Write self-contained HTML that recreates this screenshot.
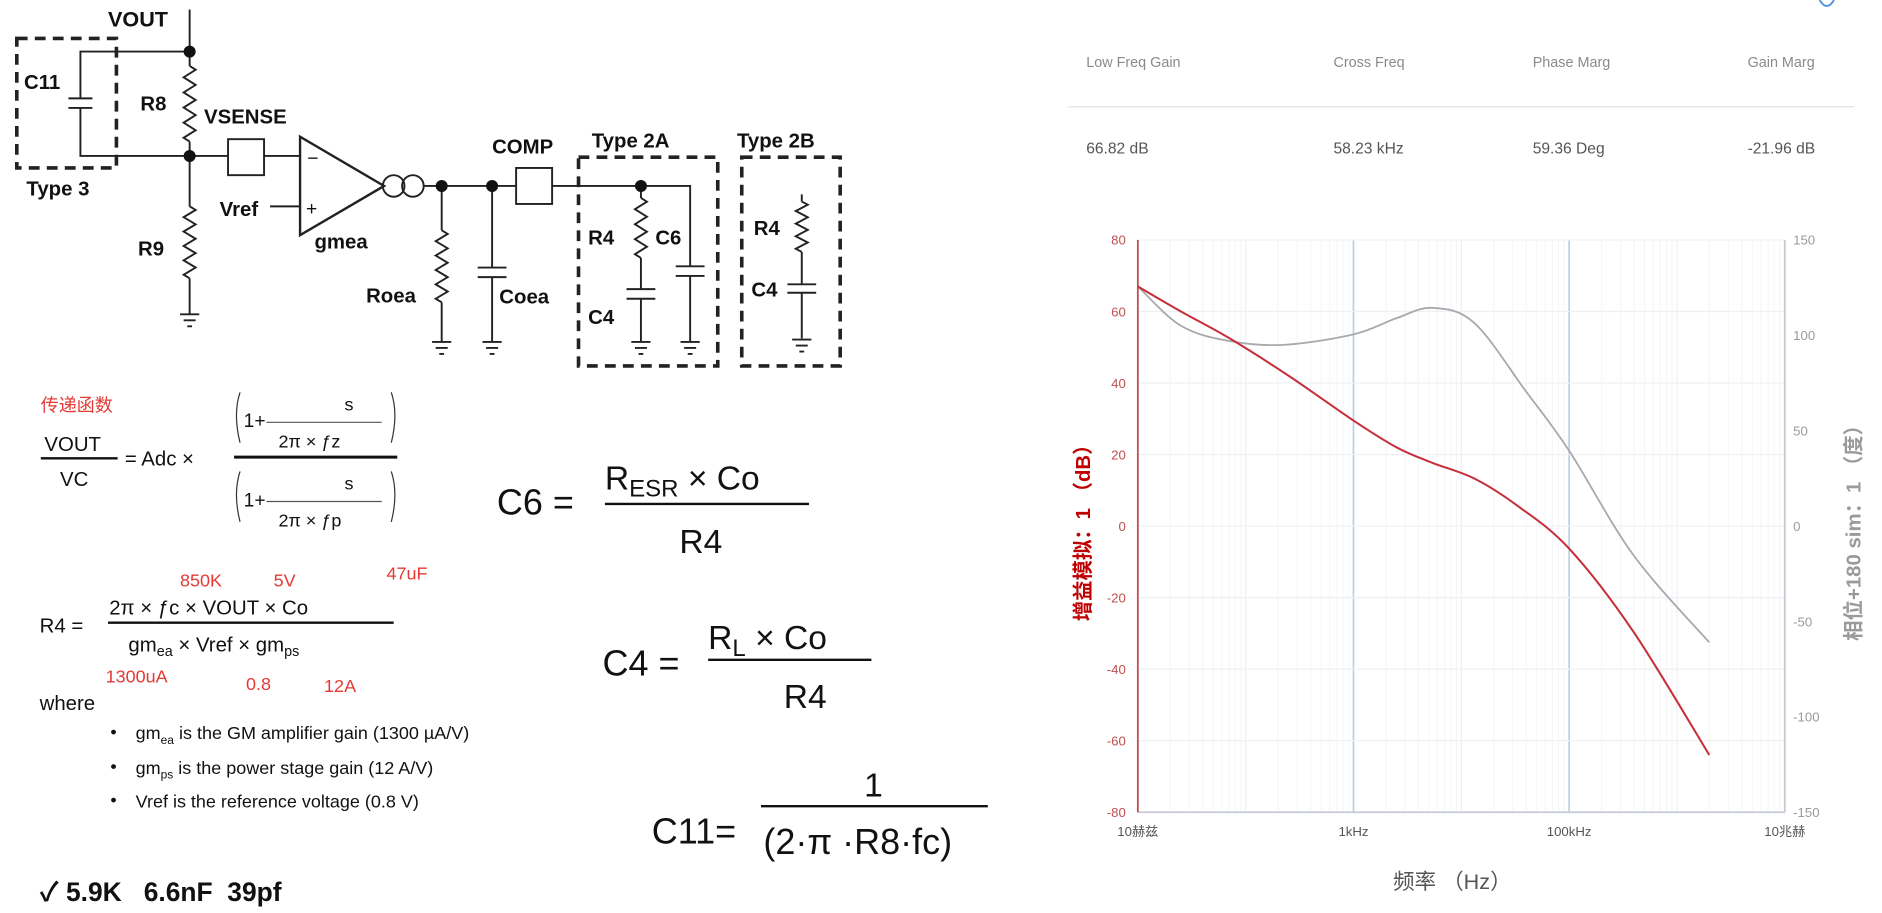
<!DOCTYPE html>
<html><head><meta charset="utf-8">
<style>
html,body{margin:0;padding:0;background:#fff;width:1882px;height:913px;overflow:hidden}
svg{display:block}
text{font-family:"Liberation Sans","Noto Sans CJK SC",sans-serif}
</style></head>
<body>
<svg id="page" width="1882" height="913" viewBox="0 0 1568 761" preserveAspectRatio="none" xmlns="http://www.w3.org/2000/svg">
<g id="circuit" stroke="#222" stroke-width="1.6" fill="none">
  <text x="90" y="22" font-size="18" font-weight="bold" fill="#111" stroke="none">VOUT</text>
  <line x1="158" y1="8" x2="158" y2="55"/>
  <line x1="158" y1="118" x2="158" y2="172"/>
  <line x1="158" y1="232" x2="158" y2="262"/>
  <path d="M150 262h16M153 267h10M156 272h4"/>
  <rect x="14" y="32" width="83" height="108" stroke-dasharray="9,6" stroke-width="3"/>
  <path d="M158 43H67V82M67 90V130H158"/>
  <path d="M57 82h20M57 90h20"/>
  <text x="20" y="74" font-size="17" font-weight="bold" fill="#111" stroke="none">C11</text>
  <text x="22" y="163" font-size="17" font-weight="bold" fill="#111" stroke="none">Type 3</text>
  <text x="117" y="92" font-size="17" font-weight="bold" fill="#111" stroke="none">R8</text>
  <text x="115" y="213" font-size="17" font-weight="bold" fill="#111" stroke="none">R9</text>
  <text x="170" y="103" font-size="17" font-weight="bold" fill="#111" stroke="none">VSENSE</text>
  <path d="M158 130H190M220 130H250"/>
  <rect x="190" y="116" width="30" height="30"/>
  <path d="M250 114L250 196L320 155Z" stroke-width="2"/>
  <text x="256" y="137" font-size="16" fill="#111" stroke="none">−</text>
  <text x="255" y="179" font-size="16" fill="#111" stroke="none">+</text>
  <path d="M225 172H250"/>
  <text x="183" y="180" font-size="17" font-weight="bold" fill="#111" stroke="none">Vref</text>
  <text x="262" y="207" font-size="17" font-weight="bold" fill="#111" stroke="none">gmea</text>
  <circle cx="328" cy="155" r="9"/><circle cx="344" cy="155" r="9"/>
  <path d="M353 155H430M460 155H575V222M575 230V285"/>
  <rect x="430" y="140" width="30" height="30"/>
  <text x="410" y="128" font-size="17" font-weight="bold" fill="#111" stroke="none">COMP</text>
  <path d="M368 155V192M368 252V285M410 155V223M410 231V285"/>
  <path d="M398 223h24M398 231h24"/>
  <text x="305" y="252" font-size="17" font-weight="bold" fill="#111" stroke="none">Roea</text>
  <text x="416" y="253" font-size="17" font-weight="bold" fill="#111" stroke="none">Coea</text>
  <rect x="482" y="131" width="116" height="174" stroke-dasharray="9,6" stroke-width="3"/>
  <rect x="618" y="131" width="82" height="174" stroke-dasharray="9,6" stroke-width="3"/>
  <text x="493" y="123" font-size="17" font-weight="bold" fill="#111" stroke="none">Type 2A</text>
  <text x="614" y="123" font-size="17" font-weight="bold" fill="#111" stroke="none">Type 2B</text>
  <path d="M534 155V165M534 215V241M534 249V285M522 241h24M522 249h24M563 222h24M563 230h24"/>
  <text x="490" y="204" font-size="17" font-weight="bold" fill="#111" stroke="none">R4</text>
  <text x="546" y="204" font-size="17" font-weight="bold" fill="#111" stroke="none">C6</text>
  <text x="490" y="270" font-size="17" font-weight="bold" fill="#111" stroke="none">C4</text>
  <path d="M668 162V168M668 210V237M668 244V282M656 237h24M656 244h24"/>
  <text x="628" y="196" font-size="17" font-weight="bold" fill="#111" stroke="none">R4</text>
  <text x="626" y="247" font-size="17" font-weight="bold" fill="#111" stroke="none">C4</text>
  <g id="circuit-dyn"></g>
</g>

<g id="formulas" fill="#111">
  <text x="34" y="343" font-size="15" fill="#e53935">传递函数</text>
  <text x="37" y="376" font-size="17">VOUT</text>
  <line x1="34" y1="382" x2="98" y2="382" stroke="#111" stroke-width="2"/>
  <text x="50" y="405" font-size="17">VC</text>
  <text x="104" y="388" font-size="17">= Adc ×</text>
  <path d="M200 327q-6 18 0 42M326 327q6 18 0 42M200 393q-6 18 0 42M326 393q6 18 0 42" stroke="#333" fill="none"/>
  <text x="203" y="356" font-size="16">1+</text><text x="287" y="342" font-size="15">s</text>
  <line x1="222" y1="352" x2="318" y2="352" stroke="#555"/>
  <text x="232" y="373" font-size="15">2π  ×  ƒz</text>
  <line x1="195" y1="381" x2="331" y2="381" stroke="#111" stroke-width="2.5"/>
  <text x="203" y="422" font-size="16">1+</text><text x="287" y="408" font-size="15">s</text>
  <line x1="222" y1="418" x2="318" y2="418" stroke="#555"/>
  <text x="232" y="439" font-size="15">2π  ×  ƒp</text>

  <text x="414" y="429" font-size="30">C6 =</text>
  <text x="504" y="408" font-size="28">R<tspan font-size="20" dy="6">ESR</tspan><tspan dy="-6">  × Co</tspan></text>
  <line x1="504" y1="420" x2="674" y2="420" stroke="#111" stroke-width="2"/>
  <text x="566" y="461" font-size="28">R4</text>

  <g fill="#e53935" font-size="15"><text x="150" y="489">850K</text><text x="228" y="489">5V</text><text x="322" y="483">47uF</text>
  <text x="88" y="569">1300uA</text><text x="205" y="575">0.8</text><text x="270" y="577">12A</text></g>
  <text x="33" y="527" font-size="17">R4 =</text>
  <text x="91" y="512" font-size="17">2π  ×  ƒc × VOUT × Co</text>
  <line x1="90" y1="519" x2="328" y2="519" stroke="#111" stroke-width="2"/>
  <text x="107" y="543" font-size="17">gm<tspan font-size="12" dy="4">ea</tspan><tspan dy="-4">  × Vref × gm</tspan><tspan font-size="12" dy="4">ps</tspan></text>
  <text x="33" y="592" font-size="17">where</text>
  <g font-size="15"><text x="92" y="615">•</text><text x="113" y="616">gm<tspan font-size="10" dy="4">ea</tspan><tspan dy="-4"> is the GM amplifier gain (1300 µA/V)</tspan></text>
  <text x="92" y="644">•</text><text x="113" y="645">gm<tspan font-size="10" dy="4">ps</tspan><tspan dy="-4"> is the power stage gain (12 A/V)</tspan></text>
  <text x="92" y="672">•</text><text x="113" y="673">Vref is the reference voltage (0.8 V)</text></g>

  <text x="502" y="563" font-size="30">C4 =</text>
  <text x="590" y="541" font-size="28">R<tspan font-size="20" dy="6">L</tspan><tspan dy="-6">  × Co</tspan></text>
  <line x1="590" y1="550" x2="726" y2="550" stroke="#111" stroke-width="2"/>
  <text x="653" y="590" font-size="28">R4</text>

  <text x="543" y="703" font-size="30">C11=</text>
  <text x="720" y="664" font-size="28">1</text>
  <line x1="634" y1="672" x2="823" y2="672" stroke="#111" stroke-width="2"/>
  <text x="636" y="712" font-size="30">(2·π ·R8·fc)</text>
  <text x="33" y="751" font-size="22" font-weight="bold" xml:space="preserve">✓ 5.9K   6.6nF  39pf</text>
</g>

<g id="stats" font-size="12">
  <g fill="#8a8a8a">
  <text x="905" y="56">Low Freq Gain</text>
  <text x="1111" y="56">Cross Freq</text>
  <text x="1277" y="56">Phase Marg</text>
  <text x="1456" y="56">Gain Marg</text></g>
  <line x1="890" y1="89" x2="1545" y2="89" stroke="#e2e2e2"/>
  <g fill="#555" font-size="13">
  <text x="905" y="128">66.82 dB</text>
  <text x="1111" y="128">58.23 kHz</text>
  <text x="1277" y="128">59.36 Deg</text>
  <text x="1456" y="128">-21.96 dB</text></g>
  <path d="M1516 0q6 10 12 0" stroke="#4a90d9" fill="none" stroke-width="1.5"/>
</g>

<g id="chart"></g>
</svg>
<script>
const NS='http://www.w3.org/2000/svg';
// ---- chart data ----
const xTickLog=[1,3,5,7];
const xTickLabels=['10赫兹','1kHz','100kHz','10兆赫'];
const gainTicks=[-80,-60,-40,-20,0,20,40,60,80];
const phaseTicks=[-150,-100,-50,0,50,100,150];
const gainLogF=[1.0,1.4,1.85,2.4,3.0,3.4,3.73,4.12,4.52,5.0,5.6,6.3];
const gainDb=[67,60,52.5,42,29.5,22,17.7,13.3,5.7,-6.3,-29.7,-64];
const phaseLogF=[1.0,1.4,1.85,2.35,3.0,3.4,3.73,4.12,4.6,5.0,5.6,6.3];
const phaseDeg=[125.6,105,97,95,100.5,109,114.4,106.5,70.6,39.5,-15.5,-61];

const L=948,R=1487,T=200,B=677;
const xS=v=>L+(v-1)/6*(R-L);
const yG=v=>B-(v+80)/160*(B-T);
const yP=v=>B-(v+150)/300*(B-T);
const chart=document.getElementById('chart');
function mk(tag,attrs,parent){const e=document.createElementNS(NS,tag);for(const k in attrs)e.setAttribute(k,attrs[k]);(parent||chart).appendChild(e);return e;}

for(let d=1;d<7;d++){for(let m=2;m<10;m++){const l=mk('line',{x1:xS(d+Math.log10(m)),x2:xS(d+Math.log10(m)),y1:T,y2:B,stroke:'#f3f5f8','stroke-width':0.8});

}}
for(let d=2;d<7;d++){const l=mk('line',{x1:xS(d),x2:xS(d),y1:T,y2:B,stroke:(d%2==1)?'#b9cfe3':'#eceff3','stroke-width':(d%2==1)?1.4:1});

}
gainTicks.forEach(v=>{const l=mk('line',{x1:L,x2:R,y1:yG(v),y2:yG(v),stroke:'#eef0f3'});


const t=mk('text',{x:938,y:yG(v)+4,'text-anchor':'end','font-size':11,fill:'#c0504d'});t.textContent=v;

});
phaseTicks.forEach(v=>{const t=mk('text',{x:1494,y:yP(v)+4,'font-size':11,fill:'#9a9a9a'});t.textContent=v;

});
xTickLog.forEach((v,i)=>{const t=mk('text',{x:xS(v),y:697,'text-anchor':'middle','font-size':11,fill:'#555'});t.textContent=xTickLabels[i];

});
let a=mk('line',{x1:L,x2:R,y1:B,y2:B,stroke:'#c5cbd3','stroke-width':1.5});


a=mk('line',{x1:R,x2:R,y1:T,y2:B,stroke:'#c5cbd3','stroke-width':1.5});


a=mk('line',{x1:L,x2:L,y1:T,y2:B,stroke:'#c0504d','stroke-width':1.5});



function smooth(xs,ys){const p=xs.map((x,i)=>[x,ys[i]]);let d='M'+p[0][0]+' '+p[0][1];
for(let i=0;i<p.length-1;i++){const p0=p[i-1]||p[i],p1=p[i],p2=p[i+1],p3=p[i+2]||p2;
d+=` C${p1[0]+(p2[0]-p0[0])/6} ${p1[1]+(p2[1]-p0[1])/6} ${p2[0]-(p3[0]-p1[0])/6} ${p2[1]-(p3[1]-p1[1])/6} ${p2[0]} ${p2[1]}`;}return d;}
let s=mk('path',{d:smooth(phaseLogF.map(xS),phaseDeg.map(yP)),stroke:'#a9a9ad',fill:'none','stroke-width':1.5});


s=mk('path',{d:smooth(gainLogF.map(xS),gainDb.map(yG)),stroke:'#c62f3a',fill:'none','stroke-width':1.7});



let t=mk('text',{x:0,y:0,'font-size':17,'font-weight':'bold',fill:'#c00000','text-anchor':'middle',transform:'translate(908,440) rotate(-90)'});t.textContent='增益模拟：1 （dB）';


t=mk('text',{x:0,y:0,'font-size':17,'font-weight':'bold',fill:'#9a9a9a','text-anchor':'middle',transform:'translate(1550,440) rotate(-90)'});t.textContent='相位+180 sim：1 （度）';


t=mk('text',{x:1210,y:741,'font-size':18,fill:'#555','text-anchor':'middle'});t.textContent='频率 （Hz）';



const cg=document.getElementById('circuit-dyn');
function zig(x,y0,y1,n){let d=`M${x} ${y0}`;const h=(y1-y0)/(n*2);for(let i=0;i<n*2;i++){d+=` L${x+(i%2?-5:5)} ${y0+h*(i+0.5)}`;}d+=` L${x} ${y1}`;return d;}
[[158,55,118,5,'r8-resistor'],[158,172,232,5,'r9-resistor'],[368,192,252,5,'roea-resistor'],[534,165,215,4,'r4-resistor'],[668,168,210,4,'r4b-resistor']].forEach(r=>{
const p=mk('path',{d:zig(r[0],r[1],r[2],r[3])},cg);

});
[[158,43],[158,130],[368,155],[410,155],[534,155]].forEach(c=>{const e=mk('circle',{cx:c[0],cy:c[1],r:5,fill:'#111',stroke:'none'},cg);

});
[[368,285],[410,285],[534,285],[575,285],[668,283]].forEach(g=>{const e=mk('path',{d:`M${g[0]-8} ${g[1]}h16M${g[0]-5} ${g[1]+5}h10M${g[0]-2} ${g[1]+10}h4`},cg);

});
</script>
</body></html>
